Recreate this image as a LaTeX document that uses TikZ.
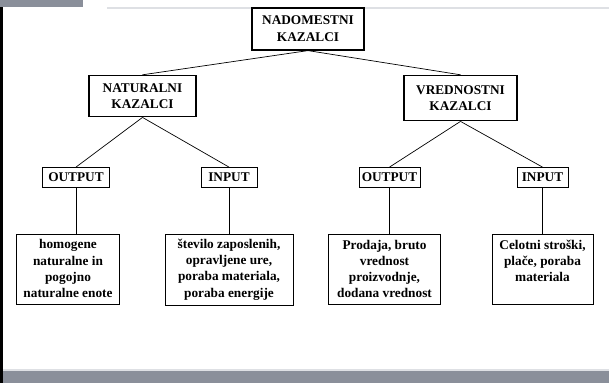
\documentclass[tikz,border=0pt]{standalone}
\usepackage{fontspec}
\setmainfont{Liberation Serif}

\definecolor{slidegray}{RGB}{138,143,154}
\definecolor{rulegray}{RGB}{222,224,228}

\tikzset{
  box/.style={rectangle, draw, align=center, anchor=north,
    font=\bfseries\fontsize{13.3}{16.3}\selectfont},
  rootbox/.style={box, line width=1.6pt, minimum height=42pt, inner xsep=4pt},
  midbox/.style={box, line width=1.6pt, minimum height=42pt, inner xsep=4pt},
  tagbox/.style={box, line width=0.8pt, minimum height=20pt, inner xsep=2pt, inner ysep=2pt},
  leafbox/.style={box, line width=0.8pt, minimum height=70pt, inner xsep=2pt, inner ysep=5pt}
}

\begin{document}
\begin{tikzpicture}[x=1pt, y=-1pt,
    every child node/.style={anchor=north},
    edge from parent/.style={draw, line width=0.7pt},
    edge from parent path={(\tikzparentnode.south) -- (\tikzchildnode.north)},
    level 1/.style={sibling distance=318pt, level distance=46pt},
    level 2/.style={sibling distance=153pt, level distance=71pt},
    level 3/.style={level distance=56pt,
      edge from parent path={(\tikzparentnode.south) -- (\tikzparentnode.south |- \tikzchildnode.north)}}]
    \useasboundingbox (0,0) rectangle (609,383);
    \fill[white] (0,0) rectangle (609,383);
    % slide frame
    \fill[slidegray] (0,0) rectangle (83,7);
    \fill[black] (0,7) rectangle (3,383);
    \draw[rulegray, line width=1.5pt] (107,8) -- (609,8);
    \fill[rulegray] (3,369) rectangle (609,371);
    \fill[slidegray] (3,371) rectangle (609,383);
    % tree
    \node[rootbox, minimum width=112pt] (root) at (308,7) {NADOMESTNI\\KAZALCI}
        child[xshift=-6.5pt] {node[midbox, minimum width=107pt, minimum height=41pt] (nat) {NATURALNI\\KAZALCI}
            child[xshift=10pt] {node[tagbox, minimum width=67pt] (natout) {OUTPUT}
                child[xshift=-8pt] {node[leafbox, minimum width=103pt] (natoutlist) {homogene\\naturalne in\\pogojno\\naturalne enote}}
            }
            child[xshift=10pt] {node[tagbox, minimum width=56pt] (natin) {INPUT}
                child {node[leafbox, minimum width=128pt] (natinlist) {število zaposlenih,\\opravljene ure,\\poraba materiala,\\poraba energije}}
            }
        }
        child[xshift=-6.5pt] {node[midbox, minimum width=113pt, minimum height=45pt] (vred) {VREDNOSTNI\\KAZALCI}
            child[xshift=5.5pt, level distance=69pt] {node[tagbox, minimum width=61pt] (vredout) {OUTPUT}
                child[xshift=-5pt] {node[leafbox, minimum width=112pt] (vredoutlist) {Prodaja, bruto\\vrednost\\proizvodnje,\\dodana vrednost}}
            }
            child[xshift=5.5pt, level distance=69pt] {node[tagbox, minimum width=51pt] (vredin) {INPUT}
                child {node[leafbox, minimum width=101pt] (vredinlist) {Celotni stroški,\\plače, poraba\\materiala\\\mbox{}}}
            }
        };
\end{tikzpicture}
\end{document}
